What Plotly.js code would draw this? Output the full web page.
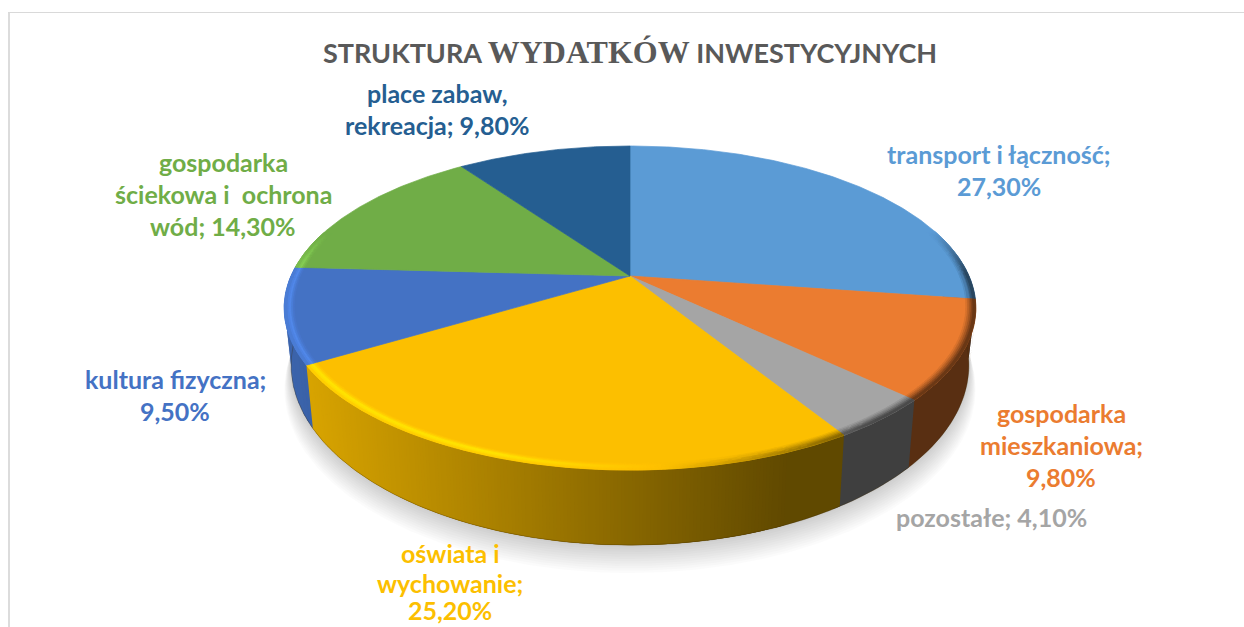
<!DOCTYPE html>
<html><head><meta charset="utf-8">
<script src="https://cdn.plot.ly/plotly-3.0.1.min.js"></script>
<style>html,body{margin:0;padding:0;background:#fff}#c{width:1244px;height:627px}</style>
</head><body><div id="c"></div>
<script>
const categories = ["transport i łączność","gospodarka mieszkaniowa","pozostałe","oświata i wychowanie","kultura fizyczna","gospodarka ściekowa i  ochrona wód","place zabaw, rekreacja"];
const shares = [27.3, 9.8, 4.1, 25.2, 9.5, 14.3, 9.8];
const colors = ["#5B9BD5","#EB7C30","#A5A5A5","#FCBF00","#4472C4","#70AD47","#255E91"];
const labelText = [
  ["transport i łączność;","27,30%"],
  ["gospodarka","mieszkaniowa;","9,80%"],
  ["pozostałe; 4,10%"],
  ["oświata i","wychowanie;","25,20%"],
  ["kultura fizyczna;","9,50%"],
  ["gospodarka","ściekowa i  ochrona","wód; 14,30%"],
  ["place zabaw,","rekreacja; 9,80%"]
];
// layout: screen centre of each label block (x) and the y of each of its lines
const labelX = [999,1061,991,450,175,223,437];
const labelY = [[154,186],[413,445,477],[517],[553,583,610],[379,411],[162,194,226],[93,125]];

// camera
const cx=630, cy=276, rx=339, b=155.7, k=0.1975, depth=54, conv=0.98;
const proj=(th,r=1)=>{const u=r*Math.sin(th),v=-r*Math.cos(th),w=1-k*v;return [cx+rx*u/w,cy+b*v/w,v,w];};
const low=(th,r=1,extra=0)=>{const p=proj(th,r);const off=depth/Math.pow(p[3],1.5)+extra;return [cx+(p[0]-cx)*conv,p[1]+off,p[2],p[3]];};
const rgb=h=>[1,3,5].map(i=>parseInt(h.substr(i,2),16));
const css=c=>`rgb(${c.map(v=>Math.round(Math.min(255,Math.max(0,v)))).join(',')})`;
const mul=(c,f)=>c.map(v=>v*f);
const wallF=x=>Math.max(0.38,Math.min(0.9,0.85-(x-313)*0.47/477));
const traces=[];
const poly=(xs,ys,fill,line,width)=>traces.push({type:'scatter',mode:'lines',x:xs,y:ys,fill:'toself',fillcolor:fill,line:{color:line||fill,width:width===undefined?0.7:width},hoverinfo:'skip',showlegend:false});
const groups=new Map();
const add=(col,pts)=>{if(!groups.has(col))groups.set(col,{x:[],y:[]});const g=groups.get(col);pts.forEach(p=>{g.x.push(p[0]);g.y.push(p[1]);});g.x.push(pts[0][0],null);g.y.push(pts[0][1],null);};
const flush=width=>{groups.forEach((g,c)=>poly(g.x,g.y,c,c,width));groups.clear();};

const total=shares.reduce((a,c)=>a+c,0);
const bounds=[0];shares.forEach((s,i)=>bounds.push(bounds[i]+s/total*2*Math.PI));
const STEP=Math.PI/360;
const steps=(a,c)=>{const n=Math.max(1,Math.ceil((c-a)/STEP)),o=[];for(let i=0;i<=n;i++)o.push(a+(c-a)*i/n);return o;};

// soft shadow under the disc
for(let s=1;s<=12;s++){
  const xs=[],ys=[];
  steps(0,2*Math.PI).forEach(t=>{const p=low(t,1+s*0.0016,s*1.9);xs.push(p[0]);ys.push(p[1]);});
  poly(xs,ys,'rgba(0,0,0,0.016)','rgba(0,0,0,0)',0);
}
// walls: each strip runs a little past its end and the next strip paints over that, so no seams
shares.forEach((_,i)=>{
  const base=rgb(colors[i]),st=steps(bounds[i],bounds[i+1]);
  for(let j=0;j<st.length-1;j++){
    const a=st[j],c=st[j+1],e=c+2*STEP;
    if(proj(a)[2]<-0.25&&proj(c)[2]<-0.25)continue;
    const f=wallF((proj(a)[0]+proj(c)[0])/2);
    add(css(mul(base,f)),[proj(a),proj(e),low(e),low(a)]);
  }
  flush(0);
});
// dark hairline at the foot of the wall
{const xs=[],ys=[];steps(Math.PI/2,1.5*Math.PI).forEach(t=>{const p=low(t);xs.push(p[0]);ys.push(p[1]);});
 traces.push({type:'scatter',mode:'lines',x:xs,y:ys,line:{color:'rgba(60,40,0,0.3)',width:1},hoverinfo:'skip',showlegend:false});}
// top face
shares.forEach((_,i)=>{
  const xs=[cx],ys=[cy];
  steps(bounds[i],bounds[i+1]).forEach(t=>{const p=proj(t);xs.push(p[0]);ys.push(p[1]);});
  xs.push(cx);ys.push(cy);
  poly(xs,ys,colors[i]);
});
// bevel rim: light on the left of the front edge, dark on the right
const bands=[[0.972,0.977,0.2,0.15],[0.977,0.982,0.55,0.35],[0.982,0.987,1,0.55],[0.987,0.992,0.8,0.8],[0.992,1,0.45,1]];
shares.forEach((_,i)=>{
  const base=rgb(colors[i]),st=steps(bounds[i],bounds[i+1]);
  for(let j=0;j<st.length-1;j++){
    const a=st[j],c=st[j+1],pm=proj((a+c)/2);
    if(pm[2]<-0.3)continue;
    const fade=Math.min(1,(pm[2]+0.3)/0.4);
    const xn=(pm[0]-cx)/rx;
    bands.forEach(([r0,r1,wl,wd])=>{
      const t=(0.1-xn)*fade;
      let col;
      if(t>0){ const h=Math.min(1,t*2)*wl; col=mul(base,1+0.19*h); }
      else { const h=Math.min(1,-t*1.6)*wd; col=mul(base,1-0.55*h); }
      add(css(col),[proj(a,r0),proj(c,r0),proj(c,r1),proj(a,r1)]);
    });
  }
  flush();
});

const annotations=[];
labelText.forEach((lines,i)=>lines.forEach((t,n)=>annotations.push({
  x:labelX[i],y:labelY[i][n],xref:'x',yref:'y',text:t,showarrow:false,xanchor:'center',yanchor:'middle',
  font:{family:'Lato, sans-serif',size:25,color:colors[i],weight:700}
})));

const frame=[
 {type:'line',xref:'x',yref:'y',x0:9,x1:9,y0:12.5,y1:627,line:{color:'#dcdcdc',width:2}},
 {type:'line',xref:'x',yref:'y',x0:8,x1:1244,y0:12.5,y1:12.5,line:{color:'#d9d9d9',width:1}}
];
const serif='font-family:Liberation Serif;font-size:32px';
Plotly.newPlot('c',traces,{
  width:1244,height:627,margin:{l:0,r:0,t:0,b:0},paper_bgcolor:'#fff',plot_bgcolor:'#fff',showlegend:false,
  title:{text:`<b>STRUKTURA </b><span style="${serif}"><b>WYDATKÓW</b></span><b> INWESTYCYJNYCH</b>`,x:630/1244,xanchor:'center',y:1-54/627,yanchor:'middle',font:{family:'Lato, sans-serif',size:27,color:'#595959'}},
  xaxis:{range:[0,1244],visible:false,fixedrange:true},
  yaxis:{range:[627,0],visible:false,fixedrange:true},
  shapes:frame,annotations
},{staticPlot:true,displayModeBar:false});
</script></body></html>
